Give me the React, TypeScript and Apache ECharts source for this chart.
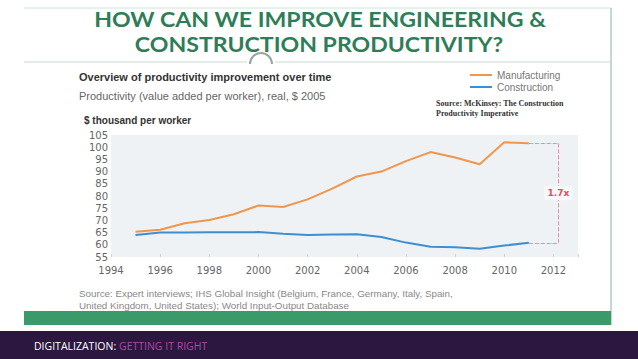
import React, { useEffect, useRef } from "react";
import * as echarts from "echarts";

const years = [1995, 1996, 1997, 1998, 1999, 2000, 2001, 2002, 2003, 2004, 2005, 2006, 2007, 2008, 2009, 2010, 2011];
const manufacturing = [65.3, 66.2, 68.8, 70.2, 72.5, 76.1, 75.5, 78.6, 83, 88, 90, 94.3, 98, 95.8, 93, 102, 101.6];
const construction = [64, 65, 65, 65.1, 65.1, 65.2, 64.5, 64, 64.2, 64.3, 63.2, 60.9, 59.2, 59, 58.4, 59.7, 60.8];
const seriesNames = ["Manufacturing", "Construction"];
const ratioLabel = "1.7x";
const titleLines = ["HOW CAN WE IMPROVE ENGINEERING &", "CONSTRUCTION PRODUCTIVITY?"];

export default function App() {
  const ref = useRef<HTMLDivElement>(null);
  useEffect(() => {
    if (!ref.current) return;
    const chart = echarts.init(ref.current, null, { renderer: "svg" });
    const lastM = manufacturing[manufacturing.length - 1];
    const lastC = construction[construction.length - 1];
    const lastYear = years[years.length - 1];
    const bracketX = 2012.2;
    const red = "#e8495e";
    chart.setOption({
      animation: false,
      backgroundColor: "#ffffff",
      textStyle: { fontFamily: "Liberation Sans" },
      grid: {
        left: 111,
        right: 60,
        top: 135,
        height: 122,
        show: true,
        backgroundColor: "#eff2f4",
        borderWidth: 0,
        containLabel: false,
      },
      legend: {
        left: 470,
        top: 69,
        padding: 0,
        orient: "vertical",
        icon: "rect",
        itemWidth: 22,
        itemHeight: 2,
        itemGap: 0,
        textStyle: { color: "#777", fontSize: 10, lineHeight: 12, fontFamily: "Liberation Sans" },
        data: seriesNames,
      },
      xAxis: {
        type: "value",
        min: 1994,
        max: 2013,
        interval: 2,
        axisLine: { show: false },
        axisTick: { show: true, inside: true, length: 3, lineStyle: { color: "#cfd3d6" } },
        splitLine: { show: false },
        axisLabel: {
          color: "#666",
          fontSize: 10,
          fontFamily: "DejaVu Sans",
          margin: 8,
          formatter: (v: number) => (v % 2 === 0 && v <= 2012 ? String(v) : ""),
        },
      },
      yAxis: {
        type: "value",
        min: 55,
        max: 105,
        interval: 5,
        axisLine: { show: false },
        axisTick: { show: false },
        splitLine: { show: false },
        axisLabel: { color: "#666", fontSize: 10, fontFamily: "DejaVu Sans", margin: 3 },
      },
      series: [
        {
          name: seriesNames[0],
          type: "line",
          showSymbol: false,
          data: years.map((y, i) => [y, manufacturing[i]]),
          lineStyle: { color: "#f0964c", width: 2 },
          itemStyle: { color: "#f0964c" },
          markLine: {
            silent: true,
            symbol: "none",
            label: { show: false },
            lineStyle: { color: "#ef8c98", type: "dashed", width: 1, opacity: 1 },
            data: [
              [{ coord: [lastYear, lastM] }, { coord: [bracketX, lastM] }],
              [{ coord: [lastYear, lastC] }, { coord: [bracketX, lastC] }],
              [{ coord: [bracketX, lastM] }, { coord: [bracketX, lastC] }],
            ],
          },
          markPoint: {
            silent: true,
            symbol: "rect",
            symbolSize: [28, 14],
            itemStyle: { color: "#f7f8f9" },
            label: { show: true, formatter: ratioLabel, color: red, fontSize: 9, fontWeight: "bold", fontFamily: "DejaVu Sans" },
            data: [{ coord: [bracketX, (lastM + lastC) / 2] }],
          },
        },
        {
          name: seriesNames[1],
          type: "line",
          showSymbol: false,
          data: years.map((y, i) => [y, construction[i]]),
          lineStyle: { color: "#3d8fd1", width: 2 },
          itemStyle: { color: "#3d8fd1" },
        },
      ],
      graphic: [
        { type: "line", shape: { x1: 24, y1: 8, x2: 611, y2: 8 }, style: { stroke: "#d2e2da", lineWidth: 1 } },
        { type: "line", shape: { x1: 611, y1: 8, x2: 611, y2: 325 }, style: { stroke: "#8db3a4", lineWidth: 1 } },
        { type: "line", shape: { x1: 24, y1: 62, x2: 247, y2: 62 }, style: { stroke: "#cddad3", lineWidth: 1 } },
        { type: "line", shape: { x1: 275, y1: 62, x2: 611, y2: 62 }, style: { stroke: "#cddad3", lineWidth: 1 } },
        { type: "arc", shape: { cx: 261, cy: 64, r: 11, startAngle: Math.PI, endAngle: Math.PI * 2 }, style: { stroke: "#9aa5a0", lineWidth: 2, fill: null } },
        {
          type: "text", x: 320, y: 19, scaleX: 1.1,
          style: { text: titleLines[0], fill: "#2e7d58", font: "bold 21px Lato", textAlign: "center", textVerticalAlign: "middle" },
        },
        {
          type: "text", x: 319, y: 44, scaleX: 1.1,
          style: { text: titleLines[1], fill: "#2e7d58", font: "bold 21px Lato", textAlign: "center", textVerticalAlign: "middle" },
        },
        {
          type: "text", x: 79, y: 77,
          style: { text: "Overview of productivity improvement over time", fill: "#333", font: "bold 11px 'Liberation Sans'", textVerticalAlign: "middle" },
        },
        {
          type: "text", x: 79, y: 96,
          style: { text: "Productivity (value added per worker), real, $ 2005", fill: "#666", font: "11px 'Liberation Sans'", textVerticalAlign: "middle" },
        },
        {
          type: "text", x: 84, y: 120,
          style: { text: "$ thousand per worker", fill: "#333", font: "bold 10px 'Liberation Sans'", textVerticalAlign: "middle" },
        },
        {
          type: "text", x: 436, y: 103,
          style: { text: "Source: McKinsey: The Construction", fill: "#333", font: "bold 8px 'Liberation Serif'", textVerticalAlign: "middle" },
        },
        {
          type: "text", x: 436, y: 113,
          style: { text: "Productivity Imperative", fill: "#333", font: "bold 8px 'Liberation Serif'", textVerticalAlign: "middle" },
        },
        {
          type: "text", x: 79, y: 293,
          style: { text: "Source: Expert interviews; IHS Global Insight (Belgium, France, Germany, Italy, Spain,", fill: "#888", font: "9.8px 'Liberation Sans'", textVerticalAlign: "middle" },
        },
        {
          type: "text", x: 79, y: 305,
          style: { text: "United Kingdom, United States); World Input-Output Database", fill: "#888", font: "9.8px 'Liberation Sans'", textVerticalAlign: "middle" },
        },
        { type: "rect", shape: { x: 24, y: 311, width: 587, height: 14 }, style: { fill: "#3a9a6a" } },
        { type: "rect", shape: { x: 0, y: 331, width: 638, height: 28 }, style: { fill: "#2c1741" } },
        {
          type: "text", x: 34, y: 346,
          style: { text: "DIGITALIZATION:", fill: "#ffffff", font: "10.5px 'Open Sans'", textVerticalAlign: "middle" },
        },
        {
          type: "text", x: 119, y: 346,
          style: { text: "GETTING IT RIGHT", fill: "#a94b9f", font: "10.5px 'Open Sans'", textVerticalAlign: "middle" },
        },
      ],
    });
    return () => chart.dispose();
  }, []);
  return <div ref={ref} style={{ position: "fixed", left: 0, top: 0, width: 638, height: 359 }} />;
}
